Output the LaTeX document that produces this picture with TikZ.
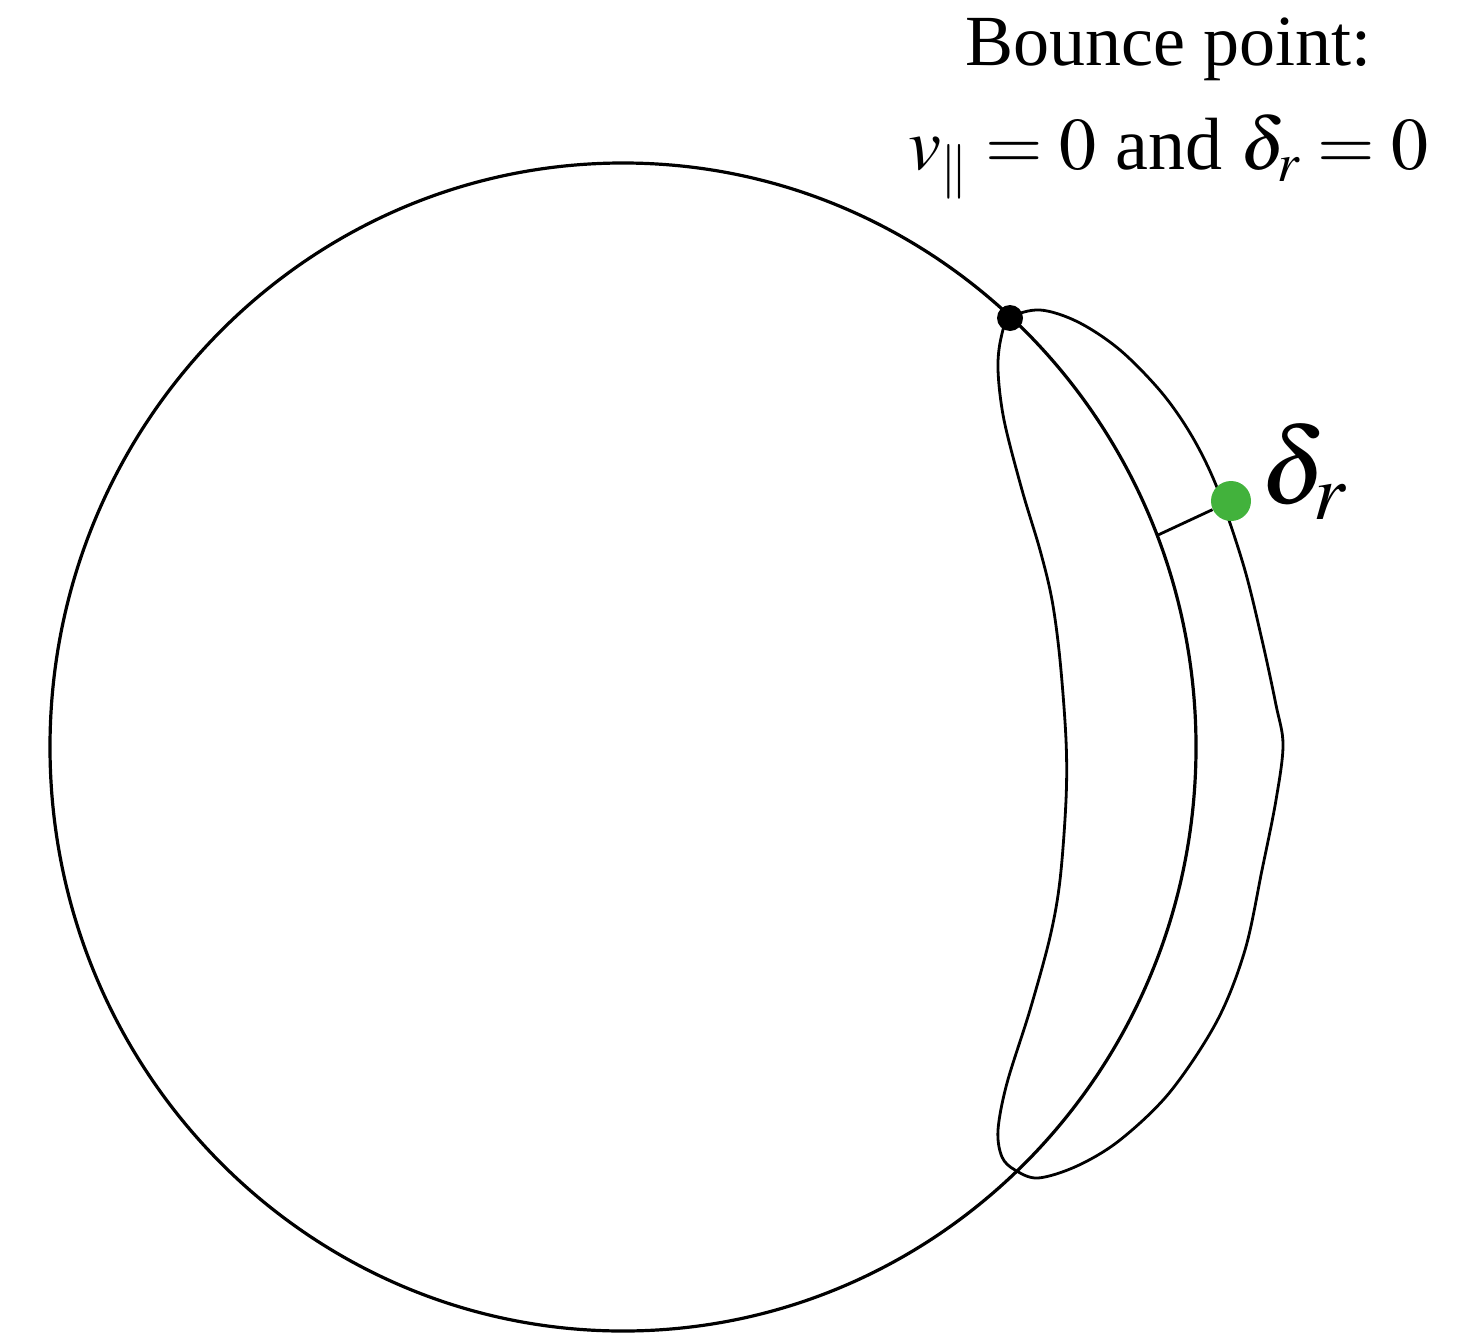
\RequirePackage{fix-cm}
\documentclass[tikz,border=0pt]{standalone}
\usepackage{amsmath}
\usepackage{mathptmx}
\usepackage{fontspec}
\setmainfont{Liberation Serif}
\definecolor{dotgreen}{RGB}{66,178,60}

\begin{document}
\begin{tikzpicture}[x=0.5pt,y=-0.5pt,wall/.style={line width=1.6pt},orbit/.style={line width=1.4pt,line join=round},bdot/.style={circle,fill=black,inner sep=0pt,minimum size=13pt},gdot/.style={circle,fill=dotgreen,inner sep=0pt,minimum size=20pt},lab/.style={inner sep=0pt,anchor=base}]

\useasboundingbox (0,0) rectangle (1481,1332);
\coordinate (c) at (623,747);
\draw[wall] (c) ellipse [x radius=573, y radius=584];
\draw[orbit] plot[smooth cycle,tension=0.55] coordinates {(1010,318) (1040,310) (1078,322) (1120,350) (1162,393) (1193,438) (1218,490) (1244,567) (1262,640) (1276,705) (1283,745) (1276,800) (1262,870) (1245,950) (1217,1021) (1170,1092) (1120,1140) (1077,1166) (1038,1178) (1015,1170) (1002,1157) (998,1130) (1007,1083) (1030,1010) (1050,937) (1060,880) (1066,800) (1066,740) (1060,660) (1052,600) (1040,550) (1022,490) (1004,420) (998,370) (1001,338)};
\node[bdot] (bounce) at (1010,318) {};
\node[gdot] (dr) at (1231,501) {};
\coordinate (foot) at (1158,535);
\draw[orbit] (foot) -- (dr);
\node[lab,anchor=base west,font=\fontsize{54}{60}\selectfont] (drlab) at (1260,503) {$\delta_r$};
\node[lab,font=\fontsize{36}{42}\selectfont] (title) at (1168,66) {Bounce point:};
\node[lab,font=\fontsize{37}{44}\selectfont] (cond) at (1168,170) {$v_{\parallel}=0$ and $\delta_r=0$};
\end{tikzpicture}
\end{document}
